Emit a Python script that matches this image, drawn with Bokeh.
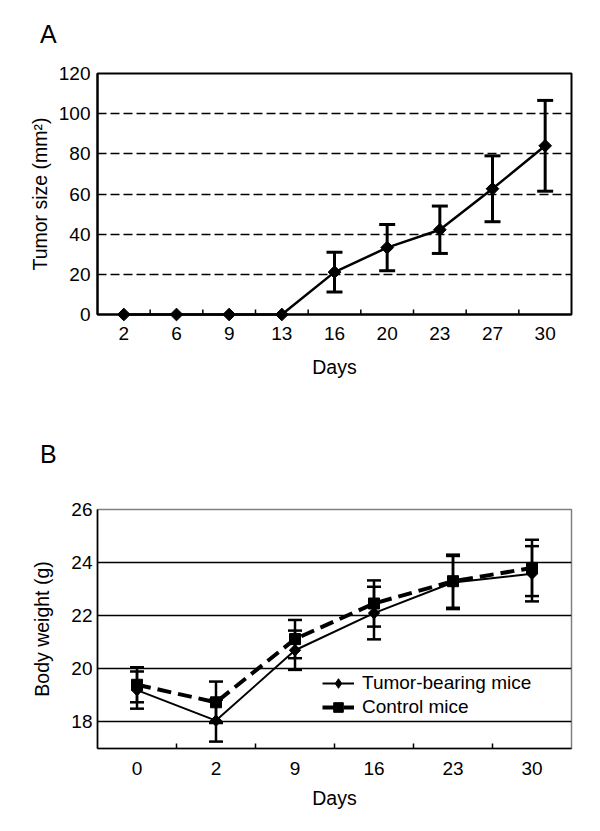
import math
from bokeh.plotting import figure
from bokeh.models import (ColumnDataSource, FixedTicker, Legend, LegendItem,
                          FactorRange, Range1d, Div)
from bokeh.transform import dodge
from bokeh.layouts import column
from bokeh.embed import file_html
from bokeh.resources import INLINE

FONT = "Liberation Sans"
NAN = float("nan")

# ---------------- data: panel A ----------------
days_a = ["2", "6", "9", "13", "16", "20", "23", "27", "30"]
tumor_size = [0, 0, 0, 0, 21.1, 33.3, 42.2, 62.6, 84.0]
tumor_size_sd = [NAN, NAN, NAN, NAN, 9.9, 11.5, 11.8, 16.4, 22.6]
ya_ticks = [0, 20, 40, 60, 80, 100, 120]
ya_grid = [20, 40, 60, 80, 100]

# ---------------- data: panel B ----------------
days_b = ["0", "2", "9", "16", "23", "30"]
tumor_weight = [19.2, 18.05, 20.7, 22.1, 23.25, 23.58]
tumor_weight_sd = [0.7, 0.79, 0.74, 0.99, 1.0, 1.04]
control_weight = [19.4, 18.74, 21.12, 22.46, 23.3, 23.8]
control_weight_sd = [0.66, 0.78, 0.72, 0.87, 1.0, 1.06]
yb_ticks = [18, 20, 22, 24, 26]

TICK_PX = "19px"
LABEL_PX = "19.5px"
W = 592


def base_axes(p, yticks, grid_ticks, standoff_x, standoff_y, axis_w):
    for ax in (p.xaxis, p.yaxis):
        ax.axis_line_color = "black"
        ax.axis_line_width = axis_w
        ax.major_tick_line_color = None
        ax.minor_tick_line_color = None
        ax.major_tick_out = 0
        ax.major_tick_in = 0
        ax.major_label_text_font = FONT
        ax.major_label_text_font_size = TICK_PX
        ax.major_label_text_color = "black"
        ax.axis_label_text_font = FONT
        ax.axis_label_text_font_size = LABEL_PX
        ax.axis_label_text_font_style = "normal"
        ax.axis_label_text_color = "black"
    p.xaxis.major_label_standoff = standoff_x
    p.yaxis.major_label_standoff = standoff_y
    p.yaxis.ticker = FixedTicker(ticks=yticks)
    p.xgrid.visible = False
    p.ygrid.ticker = FixedTicker(ticks=grid_ticks)
    p.ygrid.grid_line_color = "black"
    p.background_fill_color = "white"
    p.border_fill_color = "white"


def boundary_ticks(p, factors, y0):
    src = ColumnDataSource(dict(day=factors[:-1]))
    p.ray(x=dodge("day", 0.5, range=p.x_range), y=y0, length=5, angle=math.pi / 2,
          length_units="screen", source=src, line_color="black", line_width=1.5)


def error_bars(p, src, cap, lw):
    p.segment(x0="day", y0="lo", x1="day", y1="hi", source=src,
              line_color="black", line_width=lw, level="overlay")
    p.scatter("day", "lo", source=src, marker="dash", size=cap,
              line_color="black", line_width=lw, level="overlay")
    p.scatter("day", "hi", source=src, marker="dash", size=cap,
              line_color="black", line_width=lw, level="overlay")


def letter(txt, height, pad_top):
    return Div(text=txt, width=W, height=height, margin=0,
               styles={"font-family": FONT, "font-size": "25px", "line-height": "25px",
                       "padding-left": "40px", "padding-top": f"{pad_top}px",
                       "box-sizing": "border-box", "color": "black"})


# ================= Panel A =================
div_a = letter("A", 45, 22)

pa = figure(x_range=FactorRange(factors=days_a), y_range=Range1d(0, 120),
            width=W, height=375, min_border_left=97, min_border_right=21,
            min_border_top=28, min_border_bottom=106,
            output_backend="svg", toolbar_location=None)
base_axes(pa, ya_ticks, ya_grid, 12, 7, 2)
pa.xaxis.axis_label = "Days"
pa.xaxis.axis_label_standoff = 13
pa.yaxis.axis_label = "Tumor size (mm²)"
pa.yaxis.axis_label_standoff = 5
pa.ygrid.grid_line_dash = "9 4"
pa.ygrid.grid_line_width = 1.3
pa.outline_line_color = "black"
pa.outline_line_width = 2
boundary_ticks(pa, days_a, 0)

src_a = ColumnDataSource(dict(
    day=days_a, val=tumor_size,
    lo=[m - s for m, s in zip(tumor_size, tumor_size_sd)],
    hi=[m + s for m, s in zip(tumor_size, tumor_size_sd)]))
pa.line("day", "val", source=src_a, line_color="black", line_width=2.5, level="overlay")
error_bars(pa, src_a, 16, 3)
pa.scatter("day", "val", source=src_a, marker="square", angle=math.pi / 4, size=9,
           fill_color="black", line_color="black", level="overlay")

# ================= Panel B =================
div_b = letter("B", 60, 22)

pb = figure(x_range=FactorRange(factors=days_b), y_range=Range1d(17, 26),
            width=W, height=340, min_border_left=95, min_border_right=20,
            min_border_top=29, min_border_bottom=72,
            output_backend="svg", toolbar_location=None)
base_axes(pb, yb_ticks, yb_ticks, 13, 5, 1.6)
pb.xaxis.axis_label = "Days"
pb.xaxis.axis_label_standoff = 9
pb.yaxis.axis_label = "Body weight (g)"
pb.yaxis.axis_label_standoff = 15
pb.ygrid.grid_line_width = 1.4
pb.outline_line_color = "#808080"
pb.outline_line_width = 1.5
boundary_ticks(pb, days_b, 17)

src_t = ColumnDataSource(dict(
    day=days_b, val=tumor_weight,
    lo=[m - s for m, s in zip(tumor_weight, tumor_weight_sd)],
    hi=[m + s for m, s in zip(tumor_weight, tumor_weight_sd)]))
src_c = ColumnDataSource(dict(
    day=days_b, val=control_weight,
    lo=[m - s for m, s in zip(control_weight, control_weight_sd)],
    hi=[m + s for m, s in zip(control_weight, control_weight_sd)]))

error_bars(pb, src_t, 14, 2.5)
error_bars(pb, src_c, 14, 2.5)
line_t = pb.line("day", "val", source=src_t, line_color="black", line_width=2, level="overlay")
line_c = pb.line("day", "val", source=src_c, line_color="black", line_width=4,
                 line_dash="14 7", level="overlay")
# diamond marker (used as legend swatch; fully covered by the rotated squares below)
diamond_t = pb.scatter("day", "val", source=src_t, marker="diamond", size=11,
                       fill_color="black", line_color="black", level="overlay")
pb.scatter("day", "val", source=src_t, marker="square", angle=math.pi / 4, size=8,
           fill_color="black", line_color="black", level="overlay")
mark_c = pb.scatter("day", "val", source=src_c, marker="square", size=11,
                    fill_color="black", line_color="black", level="overlay")

legend = Legend(items=[LegendItem(label="Tumor-bearing mice", renderers=[line_t, diamond_t]),
                       LegendItem(label="Control mice", renderers=[line_c, mark_c])],
                location=(225, 29), orientation="vertical",
                glyph_width=32, glyph_height=24, label_height=24, spacing=0,
                padding=0, margin=0, label_standoff=8,
                label_text_font=FONT, label_text_font_size=TICK_PX, label_text_color="black",
                background_fill_alpha=0, border_line_color=None)
pb.add_layout(legend)

layout = column(div_a, pa, div_b, pb, spacing=0)
open("out.html", "w").write(file_html(layout, INLINE))
